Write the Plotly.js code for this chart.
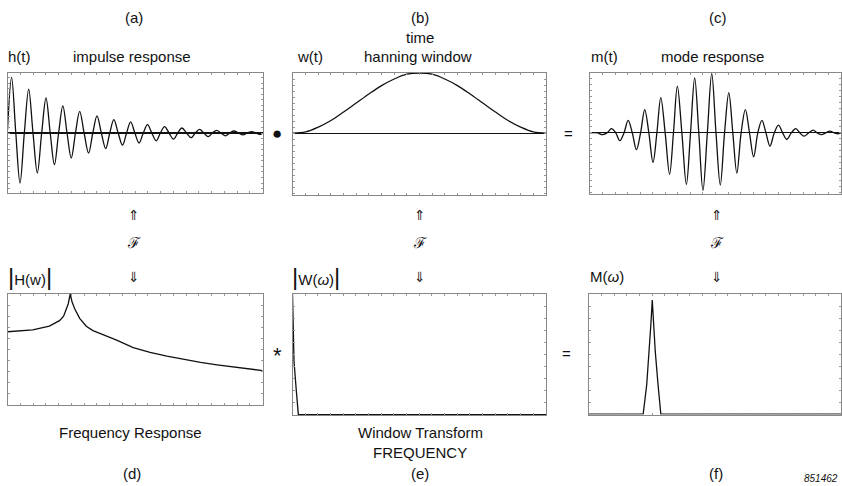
<!DOCTYPE html>
<html><head><meta charset="utf-8">
<script src="https://cdn.plot.ly/plotly-3.0.1.min.js"></script>
<style>html,body{margin:0;padding:0;background:#fff}#chart{width:842px;height:486px}</style>
</head><body><div id="chart"></div>
<script>
// ---- (a) impulse response h(t): extrema and zero crossings
const hExtT = [1.6, 4.9, 8.3, 11.7, 15.1, 18.4, 21.7, 25.0, 28.3, 31.8, 35.1, 38.5, 41.7, 45.1, 48.3, 51.6, 54.9, 58.3, 61.6, 65.1, 68.4, 72.0, 75.3, 78.7, 82.0, 85.5, 88.8, 92.3, 95.7, 99.1];
const hExtV = [1.0, -0.90, 0.79, -0.72, 0.63, -0.57, 0.49, -0.45, 0.39, -0.36, 0.31, -0.28, 0.24, -0.22, 0.20, -0.18, 0.15, -0.14, 0.115, -0.11, 0.09, -0.085, 0.066, -0.065, 0.048, -0.05, 0.036, -0.035, 0.024, -0.025];
const hZeroT = [3.25, 6.6, 10.0, 13.4, 16.75, 20.05, 23.35, 26.65, 30.05, 33.45, 36.8, 40.1, 43.4, 46.7, 49.95, 53.25, 56.6, 59.95, 63.35, 66.75, 70.2, 73.65, 77.0, 80.35, 83.75, 87.15, 90.55, 94.0, 97.4];
const hEdgeT = [0, 100];
const hEdgeV = [0.05, -0.01];

// ---- (b) hanning window w(t)
const wT = [0, 5, 10, 15, 20, 25, 30, 35, 40, 45, 50, 55, 60, 65, 70, 75, 80, 85, 90, 95, 100];
const wV = [0, 0.02, 0.10, 0.21, 0.35, 0.50, 0.65, 0.79, 0.90, 0.98, 1.0, 0.98, 0.90, 0.79, 0.65, 0.50, 0.35, 0.21, 0.10, 0.02, 0];

// ---- (c) mode response m(t)
const mExtT = [4.9, 8.6, 11.9, 15.2, 18.5, 21.8, 25.1, 28.2, 31.7, 34.8, 38.4, 41.7, 45.0, 48.5, 51.9, 55.3, 58.5, 61.9, 65.2, 68.5, 71.7, 75.1, 78.4, 82.0, 85.3, 88.9, 92.2, 95.6, 98.9];
const mExtV = [-0.03, 0.07, -0.13, 0.21, -0.28, 0.39, -0.49, 0.59, -0.69, 0.78, -0.86, 0.92, -0.96, 0.99, -0.87, 0.67, -0.67, 0.39, -0.40, 0.21, -0.22, 0.13, -0.11, 0.07, -0.055, 0.045, -0.03, 0.03, -0.015];
const mZeroT = [0, 3.0, 6.75, 10.25, 13.55, 16.85, 20.15, 23.45, 26.65, 29.95, 33.25, 36.6, 40.05, 43.35, 46.75, 50.2, 53.6, 56.9, 60.2, 63.55, 66.85, 70.1, 73.4, 76.75, 80.2, 83.65, 87.1, 90.55, 93.9, 97.25, 100];

// ---- (d) frequency response |H(w)|
const dF = [0, 5, 9.9, 16.4, 20.4, 22.0, 23.0, 23.8, 24.6, 25.3, 26.3, 28.3, 30.9, 33.5, 36.2, 42.8, 49.3, 55.9, 62.5, 69.1, 75.7, 82.2, 88.8, 95.4, 100];
const dV = [0.66, 0.665, 0.676, 0.71, 0.76, 0.80, 0.856, 0.91, 1.0, 0.93, 0.87, 0.78, 0.71, 0.67, 0.645, 0.585, 0.517, 0.475, 0.44, 0.41, 0.384, 0.362, 0.345, 0.325, 0.31];

// ---- (e) window transform |W(omega)|
const eF = [0, 0.3, 0.6, 1.5, 2.3, 5, 20, 40, 60, 80, 100];
const eV = [1.0, 0.7, 0.44, 0.2, 0, 0, 0, 0, 0, 0, 0];

// ---- (f) mode spectrum M(omega)
const fF = [0, 10, 20, 21.5, 22.9, 23.9, 24.6, 25.1, 25.6, 26.3, 27.4, 28.5, 30, 40, 60, 80, 100];
const fV = [0, 0, 0, 0, 0.245, 0.52, 0.76, 0.95, 0.76, 0.52, 0.245, 0, 0, 0, 0, 0, 0];

function merge(tA, vA, tB, vB) {
  const pts = [];
  tA.forEach((t, i) => pts.push([t, vA[i]]));
  tB.forEach((t, i) => pts.push([t, vB[i]]));
  pts.sort((p, q) => p[0] - q[0]);
  return {x: pts.map(p => p[0]), y: pts.map(p => p[1])};
}
const hAll = merge(hExtT.concat(hEdgeT), hExtV.concat(hEdgeV), hZeroT, hZeroT.map(() => 0));
const mAll = merge(mExtT, mExtV, mZeroT, mZeroT.map(() => 0));

const W = 842, H = 486;
// panel boxes in pixels: [left, right, top, bottom]
const boxes = [
  [7.5, 262.5, 73, 193],
  [293, 546, 73, 195],
  [590, 841, 73, 194],
  [7.5, 262.5, 294, 405],
  [292.5, 546, 294, 415],
  [589, 841, 294, 414.5]
];
const yRanges = [[-1.08, 1.08], [-1.03, 1.0], [-1.02, 1.0], [0, 1.0], [-0.003, 1.0], [-0.003, 1.0]];

const line = {color: '#111', width: 1.3};
const traces = [
  {x: hAll.x, y: hAll.y, mode: 'lines', line: Object.assign({shape: 'spline', smoothing: 1}, line), xaxis: 'x', yaxis: 'y'},
  {x: wT, y: wV, mode: 'lines', line: Object.assign({shape: 'spline', smoothing: 1}, line), xaxis: 'x2', yaxis: 'y2'},
  {x: mAll.x, y: mAll.y, mode: 'lines', line: Object.assign({shape: 'spline', smoothing: 1}, line), xaxis: 'x3', yaxis: 'y3'},
  {x: dF, y: dV, mode: 'lines', line: Object.assign({}, line), xaxis: 'x4', yaxis: 'y4'},
  {x: eF, y: eV, mode: 'lines', line: Object.assign({}, line), xaxis: 'x5', yaxis: 'y5'},
  {x: fF, y: fV, mode: 'lines', line: Object.assign({}, line), xaxis: 'x6', yaxis: 'y6'}
];

const layout = {
  width: W, height: H,
  margin: {l: 0, r: 0, t: 0, b: 0},
  paper_bgcolor: '#fff', plot_bgcolor: '#fff',
  showlegend: false,
  font: {family: 'Liberation Sans, Arial, sans-serif', size: 15, color: '#111'},
  annotations: []
};
boxes.forEach((b, i) => {
  const n = i === 0 ? '' : String(i + 1);
  const common = {
    showline: true, mirror: 'ticks', linecolor: '#888', linewidth: 1,
    ticks: 'inside', ticklen: 2, tickcolor: '#999', tickwidth: 1,
    showticklabels: false, showgrid: false, fixedrange: true
  };
  layout['xaxis' + n] = Object.assign({}, common, {
    domain: [b[0] / W, b[1] / W], range: [0, 100], dtick: 5, zeroline: false,
    anchor: 'y' + n
  });
  layout['yaxis' + n] = Object.assign({}, common, {
    domain: [1 - b[3] / H, 1 - b[2] / H], range: yRanges[i], dtick: 0.1,
    zeroline: i < 3, zerolinecolor: '#111', zerolinewidth: 1.1,
    anchor: 'x' + n
  });
});

function txt(text, px, py, opts) {
  layout.annotations.push(Object.assign({
    text: text, x: px / W, y: 1 - py / H, xref: 'paper', yref: 'paper',
    xanchor: 'center', yanchor: 'middle', showarrow: false
  }, opts || {}));
}
const bar = "<span style='font-size:24px'>|</span>";
txt('(a)', 134, 18); txt('(b)', 420, 18); txt('(c)', 718, 18);
txt('time', 420, 38);
txt('h(t)', 19, 57); txt('impulse response', 132, 57);
txt('w(t)', 310, 57); txt('hanning window', 418, 57);
txt('m(t)', 604, 57); txt('mode response', 712, 57);
txt('●', 277, 133, {font: {size: 17, color: '#111'}});
txt('=', 568, 133);
txt('*', 277, 355, {font: {size: 22, color: '#111'}});
txt('=', 566, 353);
[134, 420, 717].forEach(x => {
  txt('⇑', x, 215, {font: {size: 14, family: 'DejaVu Sans', color: '#222'}});
  txt('ℱ', x, 243, {font: {size: 15, family: 'DejaVu Serif', color: '#111'}});
  txt('⇓', x, 277, {font: {size: 14, family: 'DejaVu Sans', color: '#222'}});
});
txt(bar + 'H(w)' + bar, 30, 276);
txt(bar + 'W(<i>ω</i>)' + bar, 316, 276);
txt('M(<i>ω</i>)', 607, 276);
txt('Frequency Response', 130, 432);
txt('Window Transform', 420, 432);
txt('FREQUENCY', 420, 452);
txt('(d)', 132, 473); txt('(e)', 420, 473); txt('(f)', 716, 473);
txt('<i>851462</i>', 840, 478, {xanchor: 'right', font: {size: 10, color: '#111'}});

Plotly.newPlot('chart', traces, layout, {staticPlot: true, displayModeBar: false});
</script>
</body></html>
